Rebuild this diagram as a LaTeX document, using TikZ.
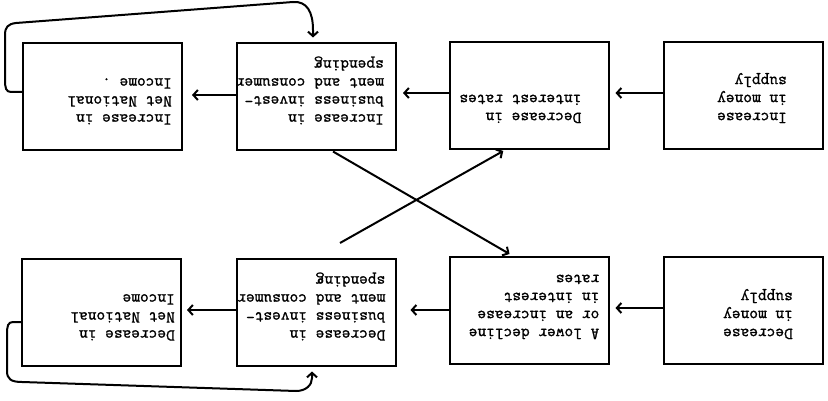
\documentclass[tikz,border=0pt]{standalone}
\usepackage{fontspec}
\newfontfamily\tw[FakeBold=1.3]{Latin Modern Mono}
\usetikzlibrary{arrows.meta}
\begin{document}
\begin{tikzpicture}[x=1pt,y=-1pt,
  box/.style={draw, line width=2pt, minimum width=159pt, minimum height=107pt, inner sep=0pt},
  txt/.style={rotate=180, anchor=north west, inner sep=0pt, align=left,
    font=\tw\fontsize{16.9}{18}\selectfont},
  conn/.style={line width=2pt, -{Straight Barb[length=4.5pt,width=10pt]}}]
\useasboundingbox (0,0) rectangle (828,401);
% top row
\node[box] (A) at (102.5,97) {};
\node[box] (B) at (316.5,97) {};
\node[box] (C) at (529,95.5) {};
\node[box] (D) at (743.5,95.5) {};
% bottom row
\node[box] (E) at (101.5,312) {};
\node[box] (F) at (316,312) {};
\node[box] (G) at (529,310.5) {};
\node[box] (H) at (743.5,310.5) {};
% texts
\node[txt] (tA) at ([xshift=-11pt,yshift=25pt]A.south east) {\rule{0pt}{12pt}Increase in\\Net National\\Income .};
\node[txt] (tB) at ([xshift=-13pt,yshift=25pt]B.south east) {\rule{0pt}{12pt}Increase in\\business invest-\\ment and consumer\\spending};
\node[txt] (tC) at ([xshift=-28pt,yshift=25pt]C.south east) {\rule{0pt}{12pt}Decrease in\\interest rates};
\node[txt] (tD) at ([xshift=-37pt,yshift=25pt]D.south east) {\rule{0pt}{12pt}Increase\\in money\\supply};
\node[txt] (tE) at ([xshift=-7pt,yshift=24pt]E.south east) {\rule{0pt}{12pt}Decrease in\\Net National\\Income};
\node[txt] (tF) at ([xshift=-11pt,yshift=24pt]F.south east) {\rule{0pt}{12pt}Decrease in\\business invest-\\ment and consumer\\spending};
\node[txt] (tG) at ([xshift=-10pt,yshift=24pt]G.south east) {\rule{0pt}{12pt}A lower decline\\or an increase\\in interest\\rates};
\node[txt] (tH) at ([xshift=-31pt,yshift=24pt]H.south east) {\rule{0pt}{12pt}Decrease\\in money\\supply};
% horizontal arrows
\draw[conn, shorten >=6pt] (D.west |- 0,93) -- (C.east |- 0,93);
\draw[conn, shorten >=6pt] (C.west |- 0,93) -- (B.east |- 0,93);
\draw[conn, shorten >=9pt] (B.west |- 0,95) -- (A.east |- 0,95);
\draw[conn, shorten >=6pt] (H.west |- 0,308) -- (G.east |- 0,308);
\draw[conn, shorten >=14pt] (G.west |- 0,310) -- (F.east |- 0,310);
\draw[conn, shorten >=5pt] (F.west |- 0,310) -- (E.east |- 0,310);
% feedback loops
\draw[conn, shorten >=5pt] (A.west |- 0,92) -- (11,92) .. controls (6,92) and (5,88) .. (5,80)
  -- (5,35) .. controls (5,27) and (8,24) .. (16,23) -- (293,2)
  .. controls (307,1) and (313,12) .. (313,30) -- (B.north -| 313,0);
\draw[conn, shorten >=5pt] (E.west |- 0,322) -- (13,322) .. controls (8,322) and (7,326) .. (7,334)
  -- (7,371) .. controls (7,379) and (11,382) .. (22,382) -- (296,391)
  .. controls (306,391) and (312,385) .. (312,378) -- (F.south -| 312,0);
% crossing arrows
\coordinate (x2) at (340,243);
\draw[conn, shorten >=4pt] (B.south -| 333,0) -- (G.north -| 513,0);
\draw[conn, shorten >=2pt] (x2) -- (C.south -| 505,0);
\end{tikzpicture}
\end{document}
